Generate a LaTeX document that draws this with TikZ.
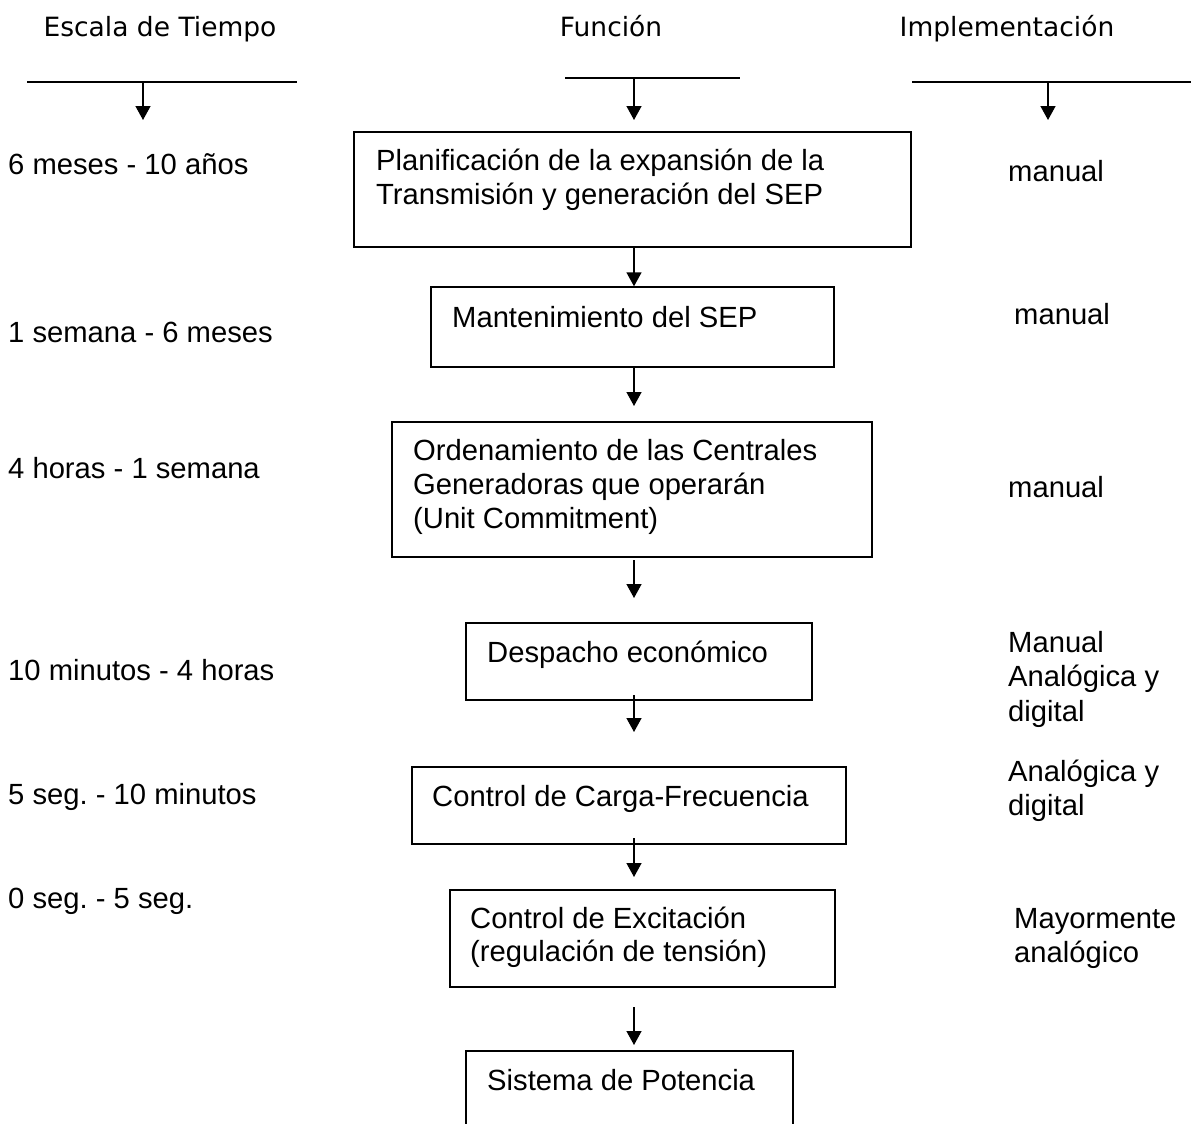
\documentclass[tikz,border=0pt]{standalone}
\usepackage{fontspec}
\setmainfont{Liberation Sans}
\newfontfamily\hdrfont{DejaVu Sans}
\usetikzlibrary{arrows.meta}
\frenchspacing
\begin{document}
\begin{tikzpicture}[x=1pt,y=-1pt,
  txt/.style={font=\fontsize{29.2}{34.5}\selectfont, inner sep=0pt, anchor=base west},
  hdr/.style={font=\hdrfont\fontsize{26.5}{30}\selectfont, inner sep=0pt, anchor=base},
  box/.style={draw, line width=1.4pt, rectangle, inner sep=0pt},
  arr/.style={line width=1.4pt, -{Triangle[width=15pt,length=14pt]}},
  rulel/.style={line width=1.4pt}]
\fill[white] (0,0) rectangle (1191,1124);
\useasboundingbox (0,0) rectangle (1191,1124);

% headers
\node[hdr] (h1) at (160,37) {Escala de Tiempo};
\node[hdr] (h2) at (611,37) {Función};
\node[hdr] (h3) at (1007,37) {Implementación};

\coordinate (r1a) at (27,82);   \coordinate (r1b) at (297,82);
\coordinate (r2a) at (565,78);  \coordinate (r2b) at (740,78);
\coordinate (r3a) at (912,82);  \coordinate (r3b) at (1191,82);
\draw[rulel] (r1a) -- (r1b);
\draw[rulel] (r2a) -- (r2b);
\draw[rulel] (r3a) -- (r3b);
\coordinate (a1s) at (143,82);  \coordinate (a1e) at (143,120);
\coordinate (a2s) at (634,78);  \coordinate (a2e) at (634,120);
\coordinate (a3s) at (1048,82); \coordinate (a3e) at (1048,120);
\draw[arr] (a1s) -- (a1e);
\draw[arr] (a2s) -- (a2e);
\draw[arr] (a3s) -- (a3e);

% boxes
\node[box, minimum width=557pt, minimum height=115pt] (b1) at (632.5,189.5) {};
\node[box, minimum width=403pt, minimum height=80pt]  (b2) at (632.5,327) {};
\node[box, minimum width=480pt, minimum height=135pt] (b3) at (632,489.5) {};
\node[box, minimum width=346pt, minimum height=77pt]  (b4) at (639,661.5) {};
\node[box, minimum width=434pt, minimum height=77pt]  (b5) at (629,805.5) {};
\node[box, minimum width=385pt, minimum height=97pt]  (b6) at (642.5,938.5) {};
\node[box, minimum width=327pt, minimum height=100pt] (b7) at (629.5,1101) {};

% box texts
\node[txt] (t1a) at (376,170) {Planificación de la expansión de la};
\node[txt] (t1b) at (376,204) {Transmisión y generación del SEP};
\node[txt] (t2)  at (452,327) {Mantenimiento del SEP};
\node[txt] (t3a) at (413,460) {Ordenamiento de las Centrales};
\node[txt] (t3b) at (413,494) {Generadoras que operarán};
\node[txt] (t3c) at (413,528) {(Unit Commitment)};
\node[txt] (t4)  at (487,662) {Despacho económico};
\node[txt] (t5)  at (432,806) {Control de Carga-Frecuencia};
\node[txt] (t6a) at (470,928) {Control de Excitación};
\node[txt] (t6b) at (470,961) {(regulación de tensión)};
\node[txt] (t7)  at (487,1090) {Sistema de Potencia};

% time scale labels
\node[txt] (s1) at (8,174) {6 meses - 10 años};
\node[txt] (s2) at (8,342) {1 semana - 6 meses};
\node[txt] (s3) at (8,478) {4 horas - 1 semana};
\node[txt] (s4) at (8,680) {10 minutos - 4 horas};
\node[txt] (s5) at (8,804) {5 seg. - 10 minutos};
\node[txt] (s6) at (8,908) {0 seg. - 5 seg.};

% implementation labels
\node[txt] (i1)  at (1008,181) {manual};
\node[txt] (i2)  at (1014,324) {manual};
\node[txt] (i3)  at (1008,497) {manual};
\node[txt] (i4a) at (1008,652) {Manual};
\node[txt] (i4b) at (1008,686.5) {Analógica y};
\node[txt] (i4c) at (1008,721) {digital};
\node[txt] (i5a) at (1008,781) {Analógica y};
\node[txt] (i5b) at (1008,815.5) {digital};
\node[txt] (i6a) at (1014,928) {Mayormente};
\node[txt] (i6b) at (1014,962.5) {analógico};

% connectors between boxes
\coordinate (c2e) at (634,406);
\coordinate (c3s) at (634,560);  \coordinate (c3e) at (634,598);
\coordinate (c4s) at (634,695);  \coordinate (c4e) at (634,732);
\coordinate (c5s) at (634,838);  \coordinate (c5e) at (634,877);
\coordinate (c6s) at (634,1007); \coordinate (c6e) at (634,1045);
\draw[arr] (b1.south -| a2s) -- (b2.north -| a2s);
\draw[arr] (b2.south -| a2s) -- (c2e);
\draw[arr] (c3s) -- (c3e);
\draw[arr] (c4s) -- (c4e);
\draw[arr] (c5s) -- (c5e);
\draw[arr] (c6s) -- (c6e);
\end{tikzpicture}
\end{document}
